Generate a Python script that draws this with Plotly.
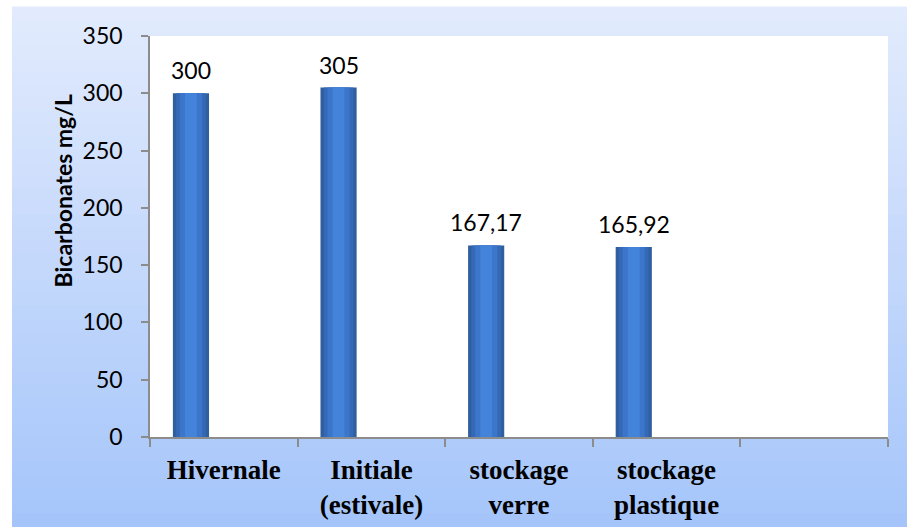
import plotly.graph_objects as go

categories = ["Hivernale", "Initiale<br>(estivale)", "stockage<br>verre", "stockage<br>plastique", " "]
values = [300, 305, 167.17, 165.92]
value_labels = ["300", "305", "167,17", "165,92"]
y_ticks = [0, 50, 100, 150, 200, 250, 300, 350]
y_title = "Bicarbonates mg/L"

W, H = 907, 532
ML, MR, MT, MB = 150, 19, 36, 91
PW, PH = W - ML - MR, H - MT - MB

fig = go.Figure()

bar_x = categories[:len(values)]
# cylinder-like bars built from overlaid layers
layers = [
    (0.245, -0.345, "#2f5f9e"),
    (0.2, -0.3225, "#3569b6"),
    (0.15, -0.2975, "#3b76cb"),
    (0.08, -0.2625, "#4384da"),
]
for w, off, col in layers:
    fig.add_trace(go.Bar(
        x=bar_x, y=values, width=w, offset=off,
        marker=dict(color=col, line=dict(width=0)),
        hoverinfo="skip", showlegend=False,
    ))

# background gradient (decoration)
shapes = []
N = 40
top = (226, 235, 253)
bot = (165, 197, 250)
y_top = (H - MB - 7) / PH
y_bot = -(MB) / PH
x0 = (12 - ML) / PW
x1 = (W - ML) / PW + 0.01
for i in range(N):
    t = i / (N - 1)
    c = tuple(int(round(top[k] + (bot[k] - top[k]) * t)) for k in range(3))
    ya = y_top - (y_top - y_bot) * i / N
    yb = y_top - (y_top - y_bot) * (i + 1) / N
    shapes.append(dict(type="rect", xref="paper", yref="paper", x0=x0, x1=x1,
                       y0=yb, y1=ya + 0.002, fillcolor="rgb(%d,%d,%d)" % c,
                       line=dict(width=0), layer="below"))
shapes.append(dict(type="rect", xref="paper", yref="paper", x0=0, x1=1, y0=0, y1=1,
                   fillcolor="white", line=dict(width=0), layer="below"))

annotations = []
bar_center_shift = (-0.345 + 0.245 / 2) * (PW / len(categories))
for cat, v, lab in zip(bar_x, values, value_labels):
    annotations.append(dict(x=cat, y=v, text=lab, showarrow=False, xref="x", yref="y",
                            xanchor="center", yanchor="bottom", xshift=bar_center_shift,
                            yshift=7, font=dict(family="Lato", size=23, color="black")))
annotations.append(dict(x=(63 - ML) / PW, y=(H - MB - 193) / PH, xref="paper", yref="paper",
                        xanchor="center", yanchor="middle",
                        text="<b>%s</b>" % y_title, textangle=-90, showarrow=False,
                        font=dict(family="Lato", size=23, color="black")))

fig.update_layout(
    width=W, height=H,
    margin=dict(l=ML, r=MR, t=MT, b=MB, pad=0),
    paper_bgcolor="white", plot_bgcolor="rgba(0,0,0,0)",
    barmode="overlay",
    shapes=shapes, annotations=annotations,
    showlegend=False,
    xaxis=dict(type="category", categoryorder="array", categoryarray=categories,
               range=[-0.5, len(categories) - 0.5], tickson="boundaries",
               ticks="outside", ticklen=8, tickcolor="#8c8c8c", tickwidth=1.5,
               showline=True, linecolor="#8c8c8c", linewidth=1.5, showgrid=False,
               ticklabelstandoff=8,
               tickfont=dict(family="Liberation Serif", size=27, color="black"),
               tickvals=categories, ticktext=["<b>%s</b>" % c for c in categories]),
    yaxis=dict(range=[0, 350], tickvals=y_ticks, ticks="outside", ticklen=7,
               tickcolor="#8c8c8c", tickwidth=1.5, showline=True, linecolor="#8c8c8c",
               linewidth=1.5, showgrid=False, zeroline=False, ticklabelstandoff=14,
               tickfont=dict(family="Lato", size=23, color="black")),
)

fig.write_html("out.html", config={"displayModeBar": False},
               post_script="document.body.style.margin='0';document.body.style.overflow='hidden';")
